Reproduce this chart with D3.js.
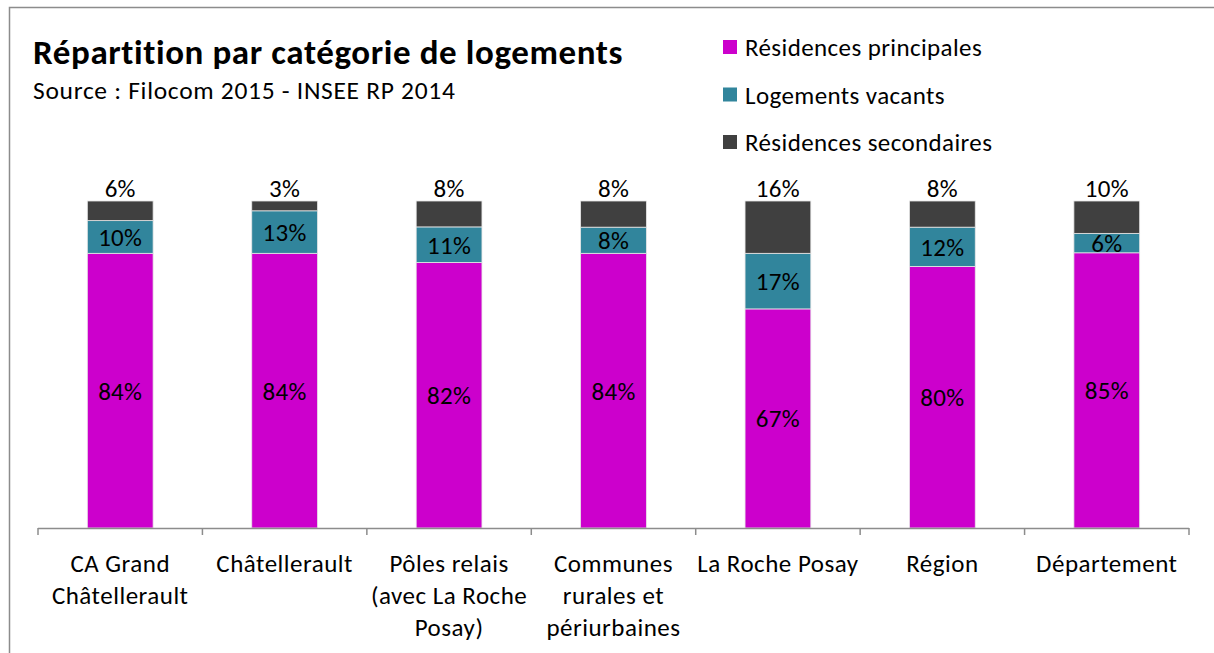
<!DOCTYPE html>
<html>
<head>
<meta charset="utf-8">
<script src="https://cdn.jsdelivr.net/npm/d3@7"></script>
<style>
  html, body { margin: 0; padding: 0; background: #fff; }
  svg { display: block; font-family: Carlito, Lato, "Open Sans", sans-serif; }
</style>
</head>
<body>
<svg id="chart" width="1214" height="653"></svg>
<script>
// Territoires comparés
const categories = [
  "CA Grand Châtellerault",
  "Châtellerault",
  "Pôles relais (avec La Roche Posay)",
  "Communes rurales et périurbaines",
  "La Roche Posay",
  "Région",
  "Département"
];
// Libellés d'axe découpés en lignes
const tickLabels = [
  ["CA Grand", "Châtellerault"],
  ["Châtellerault"],
  ["Pôles relais", "(avec La Roche", "Posay)"],
  ["Communes", "rurales et", "périurbaines"],
  ["La Roche Posay"],
  ["Région"],
  ["Département"]
];
// Parts en % (arrondies)
const principales = [84, 84, 82, 84, 67, 80, 85];
const vacants     = [10, 13, 11, 8, 17, 12, 6];
const secondaires = [6, 3, 8, 8, 16, 8, 10];

const seriesNames = ["Résidences principales", "Logements vacants", "Résidences secondaires"];
const seriesKeys = ["principales", "vacants", "secondaires"];
const colors = ["#CC00CC", "#31859C", "#404040"];

const rows = categories.map((c, i) => ({
  cat: c,
  principales: principales[i],
  vacants: vacants[i],
  secondaires: secondaires[i]
}));

const svg = d3.select("#chart");
const W = 1214, H = 653;
const margin = { left: 38, right: 25, top: 201, bottom: 125 };

// Cadre
svg.append("rect")
  .attr("x", 9.5).attr("y", 7.5)
  .attr("width", W + 10).attr("height", H + 10)
  .attr("fill", "none").attr("stroke", "#8c8c8c").attr("stroke-width", 1.5);

// Titre et source
svg.append("text").attr("x", 33).attr("y", 64)
  .attr("font-size", 35).attr("font-weight", "bold").attr("letter-spacing", 0.6).attr("fill", "#000")
  .text("Répartition par catégorie de logements");
svg.append("text").attr("x", 33).attr("y", 99)
  .attr("font-size", 25.5).attr("letter-spacing", 0.7).attr("fill", "#000")
  .text("Source : Filocom 2015 - INSEE RP 2014");

// Légende
const legend = svg.append("g").attr("transform", "translate(723,40)");
seriesNames.forEach((name, i) => {
  const g = legend.append("g").attr("transform", `translate(0,${i * 47.5})`);
  g.append("rect").attr("width", 14).attr("height", 14).attr("fill", colors[i]);
  g.append("text").attr("x", 22).attr("y", 16)
    .attr("font-size", 25).attr("letter-spacing", 0.4).attr("fill", "#000").text(name);
});

const x = d3.scaleBand()
  .domain(categories)
  .range([margin.left, W - margin.right])
  .paddingInner(0.6).paddingOuter(0.3);

const y = d3.scaleLinear().domain([0, 1]).range([H - margin.bottom, margin.top]);

const stack = d3.stack().keys(seriesKeys).offset(d3.stackOffsetExpand);
const layers = stack(rows);

const gBars = svg.append("g");
layers.forEach((layer, li) => {
  gBars.selectAll(null)
    .data(layer)
    .join("rect")
    .attr("x", d => x(d.data.cat))
    .attr("width", x.bandwidth())
    .attr("y", d => y(d[1]))
    .attr("height", d => y(d[0]) - y(d[1]))
    .attr("fill", colors[li])
    .attr("stroke", "#e6e6e6")
    .attr("stroke-width", 0.8);
});

// Étiquettes de valeurs
const fmt = v => v + "%";
layers.forEach((layer, li) => {
  const key = seriesKeys[li];
  svg.append("g").selectAll(null)
    .data(layer)
    .join("text")
    .attr("x", d => x(d.data.cat) + x.bandwidth() / 2)
    .attr("y", d => li === 2 ? y(d[1]) - 4 : (y(d[0]) + y(d[1])) / 2 + 9)
    .attr("text-anchor", "middle")
    .attr("font-size", 25)
    .attr("letter-spacing", 0.3)
    .attr("fill", "#000")
    .text(d => fmt(d.data[key]));
});

// Axe des catégories
const axisY = H - margin.bottom;
const x0 = x.range()[0], x1 = x.range()[1];
const axis = svg.append("g");
axis.append("line")
  .attr("x1", x0).attr("x2", x1).attr("y1", axisY + 0.5).attr("y2", axisY + 0.5)
  .attr("stroke", "#8c8c8c").attr("stroke-width", 1.5);
d3.range(categories.length + 1).forEach(i => {
  const tx = x0 + (x1 - x0) * i / categories.length;
  axis.append("line")
    .attr("x1", tx).attr("x2", tx).attr("y1", axisY).attr("y2", axisY + 7)
    .attr("stroke", "#8c8c8c").attr("stroke-width", 1.5);
});
categories.forEach((c, i) => {
  const t = axis.append("text")
    .attr("x", x(c) + x.bandwidth() / 2)
    .attr("y", axisY + 44)
    .attr("text-anchor", "middle")
    .attr("font-size", 25)
    .attr("letter-spacing", 0.5)
    .attr("fill", "#000");
  tickLabels[i].forEach((line, j) => {
    t.append("tspan").attr("x", x(c) + x.bandwidth() / 2).attr("dy", j === 0 ? 0 : 32).text(line);
  });
});
</script>
</body>
</html>
